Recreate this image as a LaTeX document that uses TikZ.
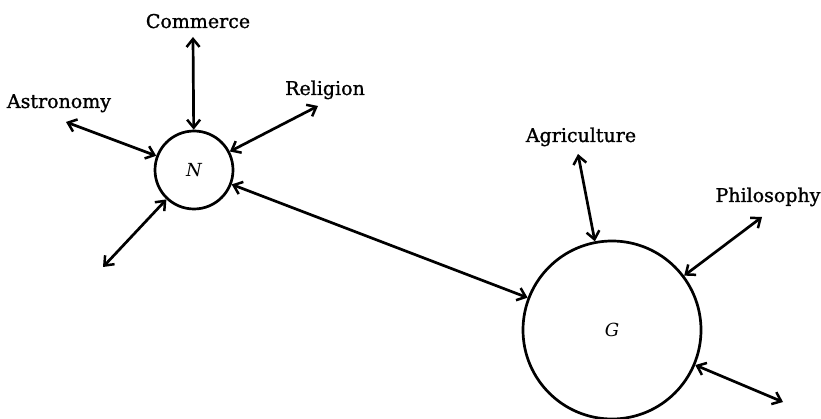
\documentclass[tikz,border=0pt]{standalone}
\usepackage{fontspec}
\setmainfont{DejaVu Serif}
\newfontfamily\lblfont[FakeBold=1.2]{DejaVu Serif}
\usetikzlibrary{arrows.meta}
\begin{document}
\begin{tikzpicture}[x=1pt,y=-1pt,
  lbl/.style={anchor=base,font=\lblfont\fontsize{19}{22}\selectfont},
  bubble/.style={circle,draw,line width=2.7pt,inner sep=0pt,font=\fontsize{18}{20}\selectfont\itshape},
  link/.style={line width=2.7pt,{Straight Barb[length=8pt,width=13pt,line width=2.5pt]}-{Straight Barb[length=8pt,width=13pt,line width=2.5pt]}}]
\useasboundingbox (0,0) rectangle (821,419);
\node[bubble,minimum size=78pt] (N) at (194,170) {N};
\node[bubble,minimum size=178pt] (G) at (612,330) {G};
\node[lbl] (lcom) at (198,28) {Commerce};
\node[lbl] (last) at (59,108) {Astronomy};
\node[lbl] (lrel) at (325,95) {Religion};
\node[lbl] (lagr) at (581,142) {Agriculture};
\node[lbl] (lphi) at (768,202) {Philosophy};
\coordinate (ecom) at (193,37);
\coordinate (east) at (66,122);
\coordinate (erel) at (318,106);
\coordinate (ebl) at (103,267);
\coordinate (eagr) at (578,154);
\coordinate (ephi) at (762,217);
\coordinate (ebr) at (783,402);
\draw[link] (ecom) -- (N);
\draw[link] (east) -- (N);
\draw[link] (erel) -- (N);
\draw[link] (ebl) -- (N);
\draw[link] (N) -- (G);
\draw[link] (eagr) -- (G);
\draw[link] (ephi) -- (G);
\draw[link] (ebr) -- (G);
\end{tikzpicture}
\end{document}
